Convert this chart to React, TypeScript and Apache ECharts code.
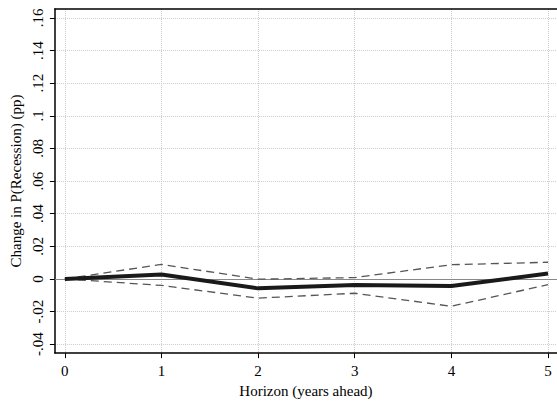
import React, { useEffect, useRef } from "react";
import * as echarts from "echarts";

const horizons = [0, 1, 2, 3, 4, 5];
const pointEstimate = [0, 0.0027, -0.0058, -0.0038, -0.0043, 0.0033];
const upperBand = [0, 0.0089, -0.0002, 0.0008, 0.0087, 0.0102];
const lowerBand = [0, -0.0040, -0.0118, -0.0088, -0.0168, -0.0035];
const yTicks = [-0.04, -0.02, 0, 0.02, 0.04, 0.06, 0.08, 0.1, 0.12, 0.14, 0.16];
const xTicks = [0, 1, 2, 3, 4, 5];

const fmtY = (v: number) => {
  const r = Math.round(v * 100) / 100;
  if (r === 0) return "0";
  return String(r).replace("0.", ".");
};

const FONT = "Liberation Serif";

export default function App() {
  const ref = useRef<HTMLDivElement>(null);
  useEffect(() => {
    document.body.style.margin = "0";
    const chart = echarts.init(ref.current!, null, { renderer: "svg" });
    const pair = (ys: number[]) => horizons.map((h, i) => [h, ys[i]]);
    chart.setOption({
      animation: false,
      backgroundColor: "#fff",
      grid: {
        left: 52,
        right: 0,
        top: 9,
        bottom: 46,
        show: false,
      },
      xAxis: [
        {
          type: "value",
          min: -0.103,
          max: 5.093,
          name: "Horizon (years ahead)",
          nameLocation: "middle",
          nameGap: 29,
          nameTextStyle: { fontFamily: FONT, fontSize: 15, color: "#000" },
          axisLine: { show: true, onZero: false, lineStyle: { color: "#000", width: 1.5 } },
          axisTick: { show: true, length: 5, customValues: xTicks, lineStyle: { color: "#000" } },
          axisLabel: {
            customValues: xTicks,
            fontFamily: FONT,
            fontSize: 15,
            color: "#000",
            margin: 10,
            formatter: (v: number) => String(Math.round(v)),
          },
          splitLine: { show: true, lineStyle: { color: "#ccc", type: "dotted", width: 1 } },
        },
        {
          type: "value",
          position: "top",
          min: -0.103,
          max: 5.093,
          axisLine: { show: true, onZero: false, lineStyle: { color: "#000", width: 1.5 } },
          axisTick: { show: false },
          axisLabel: { show: false },
          splitLine: { show: false },
        },
      ],
      yAxis: {
        type: "value",
        min: -0.0455,
        max: 0.1655,
        name: "Change in P(Recession) (pp)",
        nameLocation: "middle",
        nameGap: 25,
        nameTextStyle: { fontFamily: FONT, fontSize: 15, color: "#000" },
        axisLine: { show: true, onZero: false, lineStyle: { color: "#000", width: 1.5 } },
        axisTick: { show: true, length: 5, customValues: yTicks, lineStyle: { color: "#000" } },
        axisLabel: {
          customValues: yTicks,
          rotate: 90,
          fontFamily: FONT,
          fontSize: 15,
          color: "#000",
          margin: 9,
          formatter: fmtY,
        },
        splitLine: { show: true, lineStyle: { color: "#ccc", type: "dotted", width: 1 } },
      },
      series: [
        {
          type: "line",
          data: pair(upperBand),
          symbol: "none",
          lineStyle: { color: "#555", width: 1.3, type: [8, 5] },
          z: 3,
        },
        {
          type: "line",
          data: pair(lowerBand),
          symbol: "none",
          lineStyle: { color: "#555", width: 1.3, type: [8, 5] },
          z: 3,
        },
        {
          type: "line",
          data: pair(pointEstimate),
          symbol: "none",
          lineStyle: { color: "#1a1a1a", width: 4 },
          z: 4,
          markLine: {
            silent: true,
            symbol: "none",
            label: { show: false },
            lineStyle: { color: "#888", width: 1, type: "solid" },
            data: [{ yAxis: 0 }],
            z: 2,
          },
        },
      ],
    });
    return () => chart.dispose();
  }, []);
  return <div ref={ref} style={{ width: 557, height: 403 }} />;
}
